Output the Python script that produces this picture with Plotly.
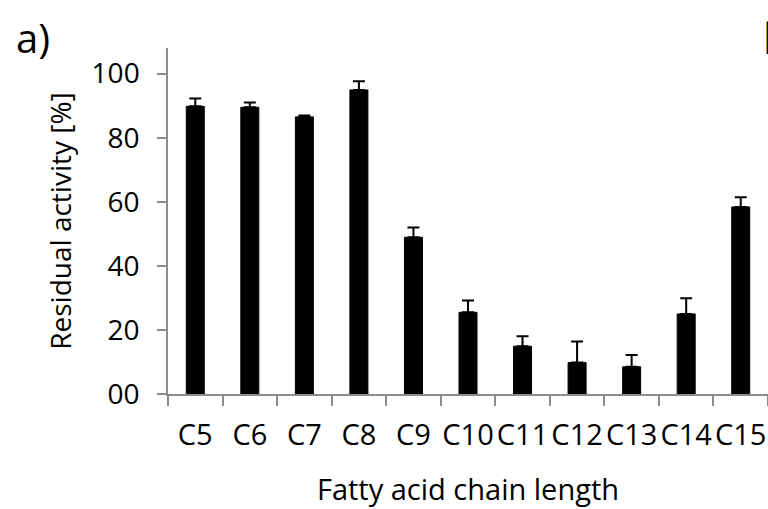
import plotly.graph_objects as go

categories = ["C5", "C6", "C7", "C8", "C9", "C10", "C11", "C12", "C13", "C14", "C15"]
activity = [89.8, 89.5, 86.5, 94.9, 48.9, 25.5, 14.9, 9.8, 8.5, 25.0, 58.4]
error_plus = [2.4, 1.5, 0.4, 2.7, 3.1, 3.7, 3.1, 6.6, 3.7, 4.9, 3.0]
y_tickvals = [0, 20, 40, 60, 80, 100]
y_ticktext = ["00", "20", "40", "60", "80", "100"]

FONT = "Open Sans"
AXIS_GRAY = "#8c8c8c"

fig = go.Figure()
fig.add_trace(go.Bar(
    x=categories,
    y=activity,
    marker=dict(color="black", line=dict(color="black", width=1)),
    error_y=dict(type="data", symmetric=False, array=error_plus,
                 arrayminus=[0] * len(error_plus),
                 color="black", thickness=2, width=6),
))

fig.update_layout(
    width=768, height=509,
    margin=dict(l=168, r=0, t=48, b=115),
    paper_bgcolor="white", plot_bgcolor="white",
    bargap=0.67,
    showlegend=False,
    font=dict(family=FONT, color="black"),
)
fig.update_xaxes(
    type="category",
    tickson="boundaries",
    tickangle=0,
    ticks="outside", ticklen=10, tickwidth=1.5, tickcolor=AXIS_GRAY,
    showline=True, linecolor=AXIS_GRAY, linewidth=1.5,
    showgrid=False,
    ticklabelstandoff=14,
    tickfont=dict(family=FONT, size=29, color="black"),
    title=dict(text="Fatty acid chain length", font=dict(family=FONT, size=29, color="black"), standoff=28),
)
fig.update_yaxes(
    range=[0, 108],
    tickvals=y_tickvals, ticktext=y_ticktext,
    ticks="outside", ticklen=9, tickwidth=1.5, tickcolor=AXIS_GRAY,
    showline=True, linecolor=AXIS_GRAY, linewidth=1.5,
    showgrid=False, zeroline=False,
    ticklabelstandoff=12,
    tickfont=dict(family=FONT, size=28, color="black"),
    title=dict(text="Residual activity [%]", font=dict(family=FONT, size=28, color="black"), standoff=12),
)

fig.add_annotation(text="a)", xref="paper", yref="paper", x=(14 - 168) / 600, y=(394 - 37) / 346,
                   xanchor="left", yanchor="middle", showarrow=False,
                   font=dict(family=FONT, size=40, color="black"))
fig.add_annotation(text="b)", xref="paper", yref="paper", x=(761 - 168) / 600, y=(394 - 37) / 346,
                   xanchor="left", yanchor="middle", showarrow=False,
                   font=dict(family=FONT, size=42, color="black"))

fig.write_html("out.html")
